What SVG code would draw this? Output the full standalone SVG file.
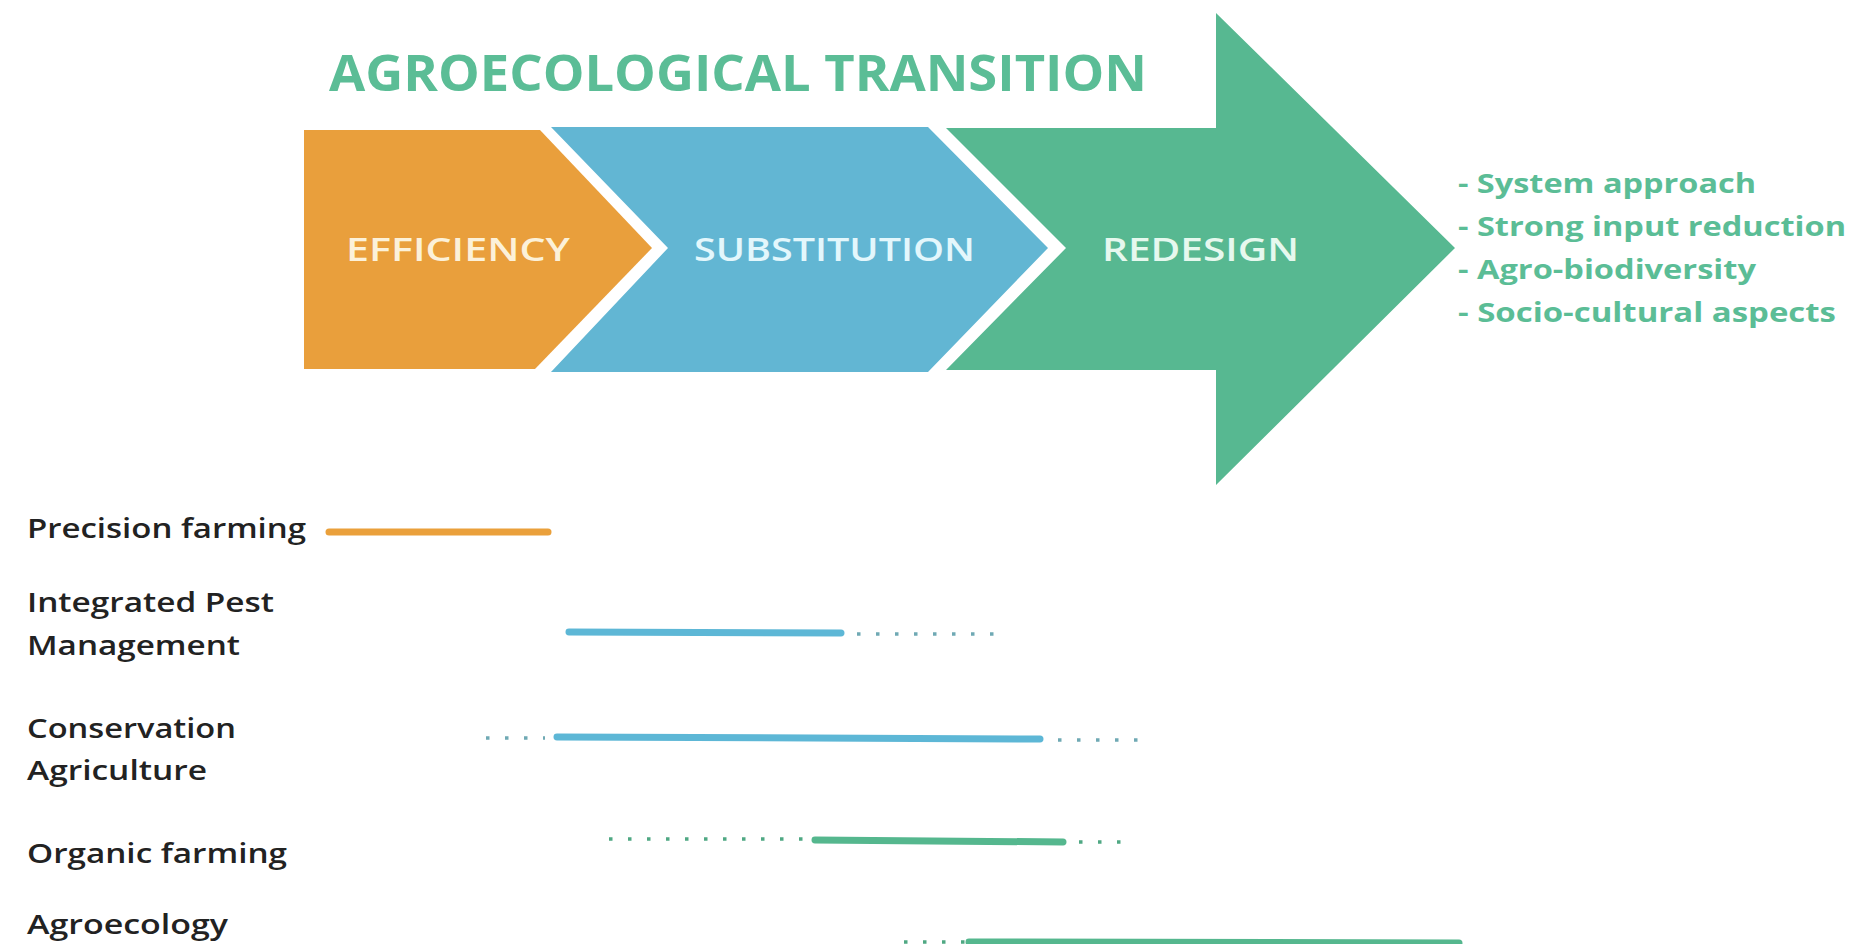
<svg xmlns="http://www.w3.org/2000/svg" width="1853" height="944" viewBox="0 0 1853 944">
<style>
.title{font-family:"Open Sans","Liberation Sans",sans-serif;font-weight:700;font-size:50px;fill:#5bbd96}
.stage{font-family:"Open Sans","Liberation Sans",sans-serif;font-weight:600;font-size:33px}
.list{font-family:"Open Sans","Liberation Sans",sans-serif;font-weight:700;font-size:26px;fill:#5bbd96}
.lab{font-family:"Open Sans","Liberation Sans",sans-serif;font-weight:600;font-size:27px;fill:#222222}
.bar{stroke-width:7;stroke-linecap:round;fill:none}
.dot{stroke-width:3.5;stroke-dasharray:3.5 15.5;fill:none}
.o{stroke:#eaa03b}.b{stroke:#5db7d6}.g{stroke:#55b78e}
.db{stroke:#6fa9b4}.dg{stroke:#4fa883}
</style>
<rect width="1853" height="944" fill="#ffffff"/>
<g id="title">
<text class="title" x="329" y="91" textLength="818" lengthAdjust="spacingAndGlyphs">AGROECOLOGICAL TRANSITION</text>
</g>
<g id="stage-efficiency">
<polygon points="304,130 540,130 652,248 535,369 304,369" fill="#e99f3c"/>
<text class="stage" x="346" y="261" fill="#fcf1d9" textLength="224" lengthAdjust="spacingAndGlyphs">EFFICIENCY</text>
</g>
<g id="stage-substitution">
<polygon points="551,127 928,127 1048,248 928,372 551,372 668,248" fill="#62b6d3"/>
<text class="stage" x="694" y="261" fill="#e3f7fc" textLength="281" lengthAdjust="spacingAndGlyphs">SUBSTITUTION</text>
</g>
<g id="stage-redesign">
<polygon points="946,128 1216,128 1216,13 1455,248 1216,485 1216,370 946,370 1066,248" fill="#57b891"/>
<text class="stage" x="1102" y="261" fill="#e6f8ee" textLength="197" lengthAdjust="spacingAndGlyphs">REDESIGN</text>
</g>
<g id="redesign-list">
<text class="list" x="1458" y="193" textLength="298" lengthAdjust="spacingAndGlyphs">- System approach</text>
<text class="list" x="1458" y="236" textLength="388" lengthAdjust="spacingAndGlyphs">- Strong input reduction</text>
<text class="list" x="1458" y="279" textLength="298" lengthAdjust="spacingAndGlyphs">- Agro-biodiversity</text>
<text class="list" x="1458" y="322" textLength="378" lengthAdjust="spacingAndGlyphs">- Socio-cultural aspects</text>
</g>
<g id="practice-precision">
<text class="lab" x="27" y="538" textLength="279" lengthAdjust="spacingAndGlyphs">Precision farming</text>
</g>
<g id="practice-ipm">
<text class="lab" x="27" y="612" textLength="247" lengthAdjust="spacingAndGlyphs">Integrated Pest</text>
<text class="lab" x="27" y="655" textLength="213" lengthAdjust="spacingAndGlyphs">Management</text>
</g>
<g id="practice-conservation">
<text class="lab" x="27" y="738" textLength="209" lengthAdjust="spacingAndGlyphs">Conservation</text>
<text class="lab" x="27" y="780" textLength="180" lengthAdjust="spacingAndGlyphs">Agriculture</text>
</g>
<g id="practice-organic">
<text class="lab" x="27" y="863" textLength="260" lengthAdjust="spacingAndGlyphs">Organic farming</text>
</g>
<g id="practice-agroecology">
<text class="lab" x="27" y="934" textLength="201" lengthAdjust="spacingAndGlyphs">Agroecology</text>
</g>
<g id="connectors">
<line class="bar o" x1="329" y1="532" x2="548" y2="532"/>
<line class="bar b" x1="569" y1="632" x2="841" y2="633"/>
<line class="dot db" x1="857" y1="634" x2="1000" y2="634"/>
<line class="dot db" x1="486" y1="738" x2="545" y2="738"/>
<line class="bar b" x1="557" y1="737" x2="1040" y2="739"/>
<line class="dot db" x1="1058" y1="740" x2="1150" y2="740"/>
<line class="dot dg" x1="609" y1="839" x2="805" y2="839"/>
<line class="bar g" x1="815" y1="840" x2="1063" y2="842"/>
<line class="dot dg" x1="1079" y1="842" x2="1130" y2="842"/>
<line class="dot dg" x1="904" y1="942" x2="965" y2="942"/>
<line class="bar g" x1="969" y1="942" x2="1459" y2="943"/>
</g>
</svg>
